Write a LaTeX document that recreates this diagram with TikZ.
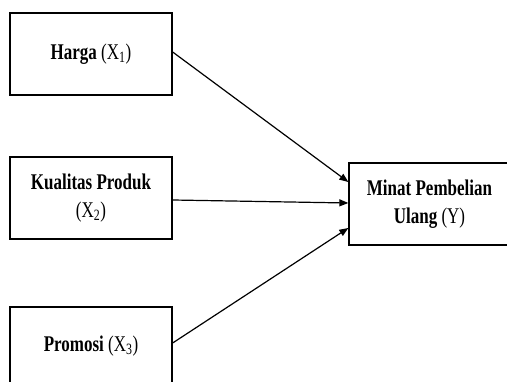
\documentclass[tikz,border=0pt]{standalone}
\usepackage{fontspec}
\usepackage{graphicx}
\setmainfont{Liberation Serif}
\usetikzlibrary{arrows.meta}
\newcommand\tallText[1]{\scalebox{1}[1.32]{\fontsize{17}{21}\selectfont\begin{tabular}{@{}c@{}}#1\end{tabular}}}
\begin{document}
\begin{tikzpicture}[x=1pt,y=-1pt,
  box/.style={draw=black,line width=1.3pt,minimum width=162pt,minimum height=82pt,
    inner sep=0pt,align=center},
  link/.style={line width=1.2pt,-{Triangle[length=9pt,width=7pt]}}]
\useasboundingbox (0,0) rectangle (507,382);
\clip (0,0) rectangle (507,382);
\node[box] (x1) at (91,54) {\raisebox{3pt}{\tallText{\textbf{Harga} (X\textsubscript{1})}}};
\node[box] (x2) at (91,198) {\tallText{\textbf{Kualitas Produk}\\(X\textsubscript{2})}};
\node[box,minimum height=78pt] (x3) at (91,346) {\tallText{\textbf{Promosi} (X\textsubscript{3})}};
\node[box,minimum width=161pt] (y) at (429.5,204) {\tallText{\textbf{Minat Pembelian}\\\textbf{Ulang} (Y)}};
\draw[link] ([yshift=2pt]x1.east) -- ([yshift=22pt]y.west);
\draw[link] ([yshift=-2pt]x2.east) -- ([yshift=1pt]y.west);
\draw[link] ([yshift=3pt]x3.east) -- ([yshift=-24pt]y.west);
\end{tikzpicture}
\end{document}
